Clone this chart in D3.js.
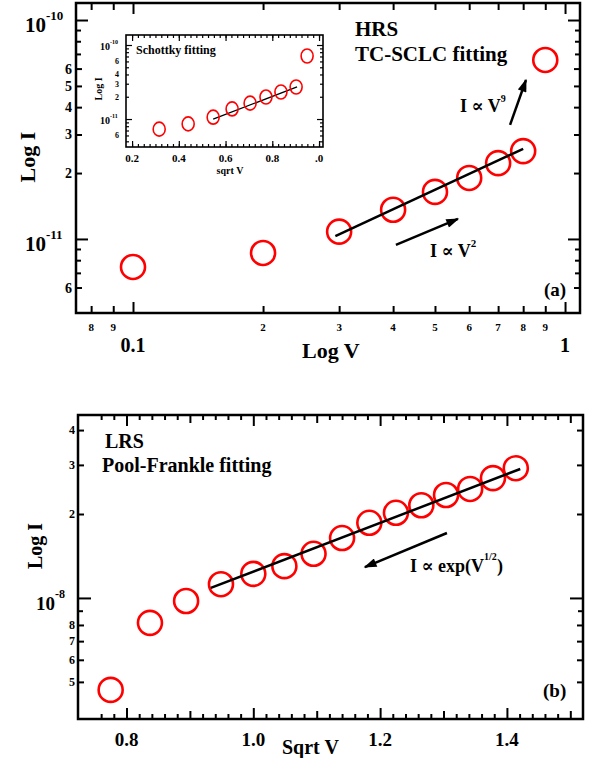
<!DOCTYPE html>
<html>
<head>
<meta charset="utf-8">
<script src="https://cdnjs.cloudflare.com/ajax/libs/d3/7.8.5/d3.min.js"></script>
<style>
  body { margin: 0; background: #fff; }
  svg text { font-family: "Liberation Serif", "DejaVu Serif", serif; font-weight: bold; fill: #000; }
</style>
</head>
<body>
<svg id="chart" width="590" height="758"></svg>
<script>
// ---- panel (a): HRS, log I vs log V ----
const hrsV = [0.1, 0.2, 0.3, 0.4, 0.5, 0.6, 0.7, 0.8, 0.9];
const hrsI = [7.45e-12, 8.63e-12, 1.08e-11, 1.36e-11, 1.64e-11, 1.90e-11, 2.22e-11, 2.52e-11, 6.57e-11];
const hrsFitV = [0.294, 0.80];
const hrsFitI = [1.03e-11, 2.58e-11];

// inset: Schottky fitting, log I vs sqrt V
const schottkySqrtV = [0.316, 0.44, 0.547, 0.628, 0.705, 0.773, 0.837, 0.902, 0.949];
const schottkyI = [7.3e-12, 8.6e-12, 1.06e-11, 1.37e-11, 1.64e-11, 1.98e-11, 2.32e-11, 2.71e-11, 7.1e-11];
const schottkyFitSqrtV = [0.547, 0.906];
const schottkyFitI = [1.0e-11, 2.71e-11];

// ---- panel (b): LRS, log I vs sqrt V ----
const lrsSqrtV = [0.775, 0.837, 0.894, 0.949, 1.0, 1.049, 1.095, 1.140, 1.183, 1.225, 1.265, 1.304, 1.342, 1.378, 1.414];
const lrsI = [4.68e-9, 8.14e-9, 9.75e-9, 1.12e-8, 1.22e-8, 1.30e-8, 1.44e-8, 1.64e-8, 1.86e-8, 2.02e-8, 2.15e-8, 2.34e-8, 2.46e-8, 2.69e-8, 2.92e-8];
const lrsFitSqrtV = [0.933, 1.421];
const lrsFitI = [1.086e-8, 2.90e-8];

// tick values / labels
const hrsXMajor = [0.1, 1];
const hrsXMajorLabels = ['0.1', '1'];
const hrsXMinor = [0.08, 0.09, 0.2, 0.3, 0.4, 0.5, 0.6, 0.7, 0.8, 0.9];
const hrsXMinorLabels = ['8', '9', '2', '3', '4', '5', '6', '7', '8', '9'];
const hrsYMajor = [1e-11, 1e-10];
const hrsYMajorExp = ['-11', '-10'];
const hrsYMid = [6e-12, 2e-11, 3e-11, 4e-11, 5e-11, 6e-11];
const hrsYMidLabels = ['6', '2', '3', '4', '5', '6'];
const hrsYMinor = [7e-12, 8e-12, 9e-12, 7e-11, 8e-11, 9e-11];

const insetXMajor = [0.2, 0.4, 0.6, 0.8, 1.0];
const insetXLabels = ['0.2', '0.4', '0.6', '0.8', '.0'];
const insetYMajor = [1e-11, 1e-10];
const insetYMajorExp = ['-11', '-10'];
const insetYLabeled = [6e-12, 2e-11, 3e-11, 4e-11, 6e-11];
const insetYLabels = ['6', '2', '3', '4', '6'];
const insetYMinor = [5e-12, 7e-12, 8e-12, 9e-12, 5e-11, 7e-11, 8e-11, 9e-11];

const lrsXMajor = [0.8, 1.0, 1.2, 1.4];
const lrsXLabels = ['0.8', '1.0', '1.2', '1.4'];
const lrsXMid = [0.9, 1.1, 1.3, 1.5];
const lrsYMajor = [1e-8];
const lrsYMajorExp = ['-8'];
const lrsYLabeled = [5e-9, 6e-9, 7e-9, 8e-9, 2e-8, 3e-8, 4e-8];
const lrsYLabels = ['5', '6', '7', '8', '2', '3', '4'];
const lrsYMinor = [9e-9];

const RED = '#ff0000';
const svg = d3.select('#chart');

svg.append('defs').append('marker')
  .attr('id', 'head')
  .attr('viewBox', '0 0 10 7')
  .attr('refX', 9).attr('refY', 3.5)
  .attr('markerUnits', 'userSpaceOnUse')
  .attr('markerWidth', 14).attr('markerHeight', 9)
  .attr('orient', 'auto')
  .append('path').attr('d', 'M0,0 L10,3.5 L0,7 Z').attr('fill', '#000');

// inward ticks on all four sides of a frame
function drawTicks(g, x, y, xSets, ySets, sw) {
  const [x0, x1] = x.range();
  const [y0, y1] = y.range();
  function add(axis, vals, len, tx, ty) {
    const a = g.append('g')
      .attr('transform', `translate(${tx},${ty})`)
      .call(axis.tickValues(vals).tickSize(len).tickFormat(''));
    a.select('.domain').remove();
    a.selectAll('text').remove();
    a.selectAll('line').attr('stroke', '#000').attr('stroke-width', sw);
  }
  xSets.forEach(([vals, len]) => {
    add(d3.axisTop(x), vals, len, 0, y0);
    add(d3.axisBottom(x), vals, len, 0, y1);
  });
  ySets.forEach(([vals, len]) => {
    add(d3.axisRight(y), vals, len, x0, 0);
    add(d3.axisLeft(y), vals, len, x1, 0);
  });
}

function frame(g, x, y, sw, fill) {
  const [x0, x1] = x.range();
  const [y0, y1] = y.range();
  g.append('rect')
    .attr('x', x0).attr('y', y1)
    .attr('width', x1 - x0).attr('height', y0 - y1)
    .attr('fill', fill || 'none')
    .attr('stroke', '#000').attr('stroke-width', sw);
}

function powLabel(g, xStart, yBase, exp, size, supSize, supDy) {
  const t = g.append('text').attr('x', xStart).attr('y', yBase).attr('font-size', size);
  t.append('tspan').text('10');
  t.append('tspan').attr('font-size', supSize).attr('dy', -supDy).text(exp);
}

function circles(g, x, y, xs, ys, r, sw) {
  g.append('g').selectAll('circle')
    .data(xs.map((v, i) => [v, ys[i]]))
    .join('circle')
    .attr('cx', d => x(d[0])).attr('cy', d => y(d[1]))
    .attr('r', r)
    .attr('fill', 'none').attr('stroke', RED).attr('stroke-width', sw);
}

function fitLine(g, x, y, xs, ys, sw) {
  g.append('path')
    .datum(xs.map((v, i) => [v, ys[i]]))
    .attr('d', d3.line().x(d => x(d[0])).y(d => y(d[1])))
    .attr('fill', 'none').attr('stroke', '#000').attr('stroke-width', sw);
}

function arrow(g, x, y, from, to) {
  g.append('line')
    .attr('x1', x(from[0])).attr('y1', y(from[1]))
    .attr('x2', x(to[0])).attr('y2', y(to[1]))
    .attr('stroke', '#000').attr('stroke-width', 2.5)
    .attr('marker-end', 'url(#head)');
}

// ================= panel (a) =================
const ga = svg.append('g');
const xa = d3.scaleLog().domain([0.0738, 1.083]).range([76, 580]);
const ya = d3.scaleLog().domain([4.59e-12, 1.196e-10]).range([313, 3]);

drawTicks(ga, xa, ya,
  [[hrsXMajor, 11], [hrsXMinor, 7]],
  [[hrsYMajor, 12], [hrsYMid, 6], [hrsYMinor, 5]], 2);
frame(ga, xa, ya, 2.5);

ga.selectAll('.xminor').data(hrsXMinor).join('text')
  .attr('x', d => xa(d)).attr('y', 331)
  .attr('text-anchor', 'middle').attr('font-size', 11)
  .text((d, i) => hrsXMinorLabels[i]);
ga.selectAll('.xmajor').data(hrsXMajor).join('text')
  .attr('x', d => xa(d)).attr('y', 352)
  .attr('text-anchor', 'middle').attr('font-size', 20)
  .text((d, i) => hrsXMajorLabels[i]);
ga.selectAll('.ymid').data(hrsYMid).join('text')
  .attr('x', 72).attr('y', d => ya(d) + 5)
  .attr('text-anchor', 'end').attr('font-size', 14)
  .text((d, i) => hrsYMidLabels[i]);
hrsYMajor.forEach((v, i) => powLabel(ga, 25, ya(v) + 12, hrsYMajorExp[i], 21, 13, 12));

ga.append('text').attr('x', 302).attr('y', 358).attr('font-size', 22).text('Log V');
ga.append('text').attr('transform', 'translate(35,157) rotate(-90)')
  .attr('text-anchor', 'middle').attr('font-size', 22).text('Log I');

ga.append('text').attr('x', 355).attr('y', 36).attr('font-size', 21).text('HRS');
ga.append('text').attr('x', 355).attr('y', 61).attr('font-size', 21).text('TC-SCLC fitting');
ga.append('text').attr('x', 544).attr('y', 296).attr('font-size', 19).text('(a)');

circles(ga, xa, ya, hrsV, hrsI, 12, 2.6);
fitLine(ga, xa, ya, hrsFitV, hrsFitI, 2.5);

arrow(ga, xa, ya, [0.746, 3.32e-11], [0.812, 5.32e-11]);
arrow(ga, xa, ya, [0.406, 9.39e-12], [0.565, 1.234e-11]);

const t9 = ga.append('text').attr('x', 460).attr('y', 112).attr('font-size', 18);
t9.append('tspan').text('I \u221D V');
t9.append('tspan').attr('font-size', 10).attr('dy', -10).text('9');
const t2 = ga.append('text').attr('x', 430).attr('y', 257).attr('font-size', 18);
t2.append('tspan').text('I \u221D V');
t2.append('tspan').attr('font-size', 11).attr('dy', -10).text('2');

// ---- inset ----
const gi = svg.append('g');
const xi = d3.scaleLinear().domain([0.174, 1.017]).range([126, 323]);
const yi = d3.scaleLog().domain([4.19e-12, 1.365e-10]).range([147, 35]);
frame(gi, xi, yi, 1.6, '#fff');
drawTicks(gi, xi, yi,
  [[insetXMajor, 6], [d3.range(0.2, 1.01, 0.025).map(v => +v.toFixed(3)), 3]],
  [[insetYMajor, 6], [insetYLabeled.concat(insetYMinor), 3]], 1.2);

gi.selectAll('.ix').data(insetXMajor).join('text')
  .attr('x', d => xi(d)).attr('y', 162)
  .attr('text-anchor', 'middle').attr('font-size', 11)
  .text((d, i) => insetXLabels[i]);
gi.selectAll('.iy').data(insetYLabeled).join('text')
  .attr('x', 119).attr('y', d => yi(d) + 3)
  .attr('text-anchor', 'end').attr('font-size', 8)
  .text((d, i) => insetYLabels[i]);
insetYMajor.forEach((v, i) => powLabel(gi, 100, yi(v) + 5, insetYMajorExp[i], 10, 6, 6));

gi.append('text').attr('x', 230).attr('y', 174)
  .attr('text-anchor', 'middle').attr('font-size', 10).text('sqrt V');
gi.append('text').attr('transform', 'translate(102,89) rotate(-90)')
  .attr('text-anchor', 'middle').attr('font-size', 10).text('Log I');
gi.append('text').attr('x', 136).attr('y', 54).attr('font-size', 12).text('Schottky fitting');

fitLine(gi, xi, yi, schottkyFitSqrtV, schottkyFitI, 1.3);
gi.append('g').selectAll('ellipse')
  .data(schottkySqrtV.map((v, i) => [v, schottkyI[i]]))
  .join('ellipse')
  .attr('cx', d => xi(d[0])).attr('cy', d => yi(d[1]))
  .attr('rx', 6).attr('ry', 7)
  .attr('fill', 'none').attr('stroke', RED).attr('stroke-width', 1.6);

// ================= panel (b) =================
const gb = svg.append('g');
const xb = d3.scaleLinear().domain([0.7235, 1.52]).range([78, 583]);
const yb = d3.scaleLog().domain([3.68e-9, 4.53e-8]).range([719, 415]);

const lrsXMinor = d3.range(0.76, 1.51, 0.02)
  .map(v => +v.toFixed(2))
  .filter(v => Math.round(v * 100) % 10 !== 0);

drawTicks(gb, xb, yb,
  [[lrsXMajor, 11], [lrsXMid, 8], [lrsXMinor, 5]],
  [[lrsYMajor, 13], [lrsYLabeled, 6], [lrsYMinor, 5]], 2);
frame(gb, xb, yb, 2.5);

gb.selectAll('.bx').data(lrsXMajor).join('text')
  .attr('x', d => xb(d)).attr('y', 746)
  .attr('text-anchor', 'middle').attr('font-size', 19)
  .text((d, i) => lrsXLabels[i]);
gb.selectAll('.by').data(lrsYLabeled).join('text')
  .attr('x', 75).attr('y', d => yb(d) + 4)
  .attr('text-anchor', 'end').attr('font-size', 12)
  .text((d, i) => lrsYLabels[i]);
lrsYMajor.forEach((v, i) => powLabel(gb, 36, yb(v) + 12, lrsYMajorExp[i], 19, 12, 12));

gb.append('text').attr('x', 282).attr('y', 754).attr('font-size', 20).text('Sqrt V');
gb.append('text').attr('transform', 'translate(42,546) rotate(-90)')
  .attr('text-anchor', 'middle').attr('font-size', 20).text('Log I');

gb.append('text').attr('x', 105).attr('y', 448).attr('font-size', 20).text('LRS');
gb.append('text').attr('x', 102).attr('y', 472).attr('font-size', 20).text('Pool-Frankle fitting');
gb.append('text').attr('x', 543).attr('y', 697).attr('font-size', 19).text('(b)');

circles(gb, xb, yb, lrsSqrtV, lrsI, 12, 2.6);
fitLine(gb, xb, yb, lrsFitSqrtV, lrsFitI, 2.5);
arrow(gb, xb, yb, [1.3054, 1.71e-8], [1.176, 1.29e-8]);

const te = gb.append('text').attr('x', 410).attr('y', 572).attr('font-size', 18);
te.append('tspan').text('I \u221D exp(V');
te.append('tspan').attr('font-size', 10).attr('dy', -12).text('1/2');
te.append('tspan').attr('dy', 12).text(')');
</script>
</body>
</html>
